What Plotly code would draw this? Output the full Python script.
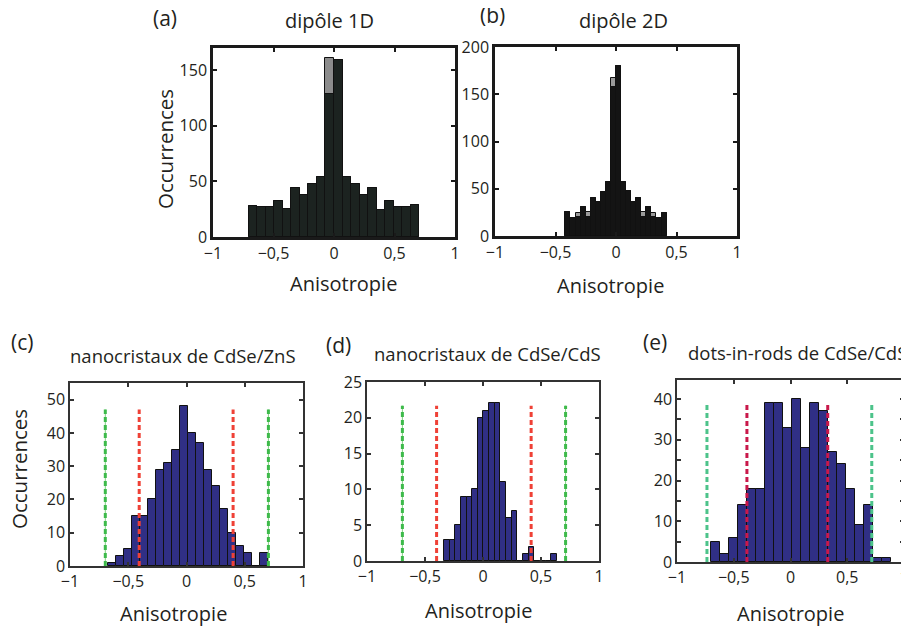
import plotly.graph_objects as go

# ---- data (histogram counts, bins of equal width) ----
a_start, a_width = -0.705, 0.0705
a_black = [28, 27, 27, 32, 25, 44, 38, 48, 54, 129, 159, 54, 48, 38, 44, 24, 32, 27, 27, 29]
a_gray = [28, 27, 27, 32, 25, 44, 38, 48, 54, 161, 159, 54, 48, 38, 44, 24, 32, 27, 27, 29]

b_start, b_width = -0.418, 0.0418
b_black = [25, 19, 20, 31, 20, 40, 36, 47, 57, 158, 180, 57, 48, 36, 40, 20, 31, 20, 19, 24]
b_gray = [25, 19, 24, 31, 25, 40, 36, 47, 57, 167, 180, 57, 48, 36, 40, 25, 31, 24, 19, 24]

c_start, c_width = -0.671, 0.0686
c_counts = [1, 3, 5, 15, 15, 20, 29, 31, 35, 48, 40, 37, 29, 24, 17, 10, 6, 4, 0, 4]
c_green = [-0.697, 0.703]
c_red = [-0.406, 0.40]
c_line_h = 47

d_start, d_width = -0.337, 0.0487
d_counts = [3, 3, 5, 9, 9, 10, 20, 21, 22, 22, 11, 6, 7, 0, 1, 2, 0, 0, 0, 1]
d_green = [-0.695, 0.712]
d_red = [-0.40, 0.415]
d_line_h = 21.7

e_start, e_width = -0.698, 0.0792
e_counts = [5, 2, 6, 14, 18, 18, 39, 39, 33, 40, 28, 39, 37, 27, 24, 18, 9, 14, 1, 1]
e_green = [-0.736, 0.716]
e_red = [-0.384, 0.328]
e_line_h = 39.3

x_ticks = [-1, -0.5, 0, 0.5, 1]
x_labels = ["\u22121", "\u22120,5", "0", "0,5", "1"]

FONT = "Open Sans"
TXT = "#231f20"
NAVY = "#302f85"

fig = go.Figure()


def add_hist(counts, start, width, color, ax, line_color="#111111"):
    fig.add_trace(go.Bar(
        y=counts, x0=start + width / 2, dx=width, width=width,
        marker=dict(color=color, line=dict(color=line_color, width=1)),
        xaxis="x" + ax, yaxis="y" + ax, showlegend=False
    ))


def add_vlines(xs, h, color, ax, thin=None):
    for v in xs:
        if thin:
            fig.add_trace(go.Scatter(
                x=[v, v], y=[0, h], mode="lines",
                line=dict(color=thin, width=1),
                xaxis="x" + ax, yaxis="y" + ax, showlegend=False
            ))
        fig.add_trace(go.Scatter(
            x=[v, v], y=[0, h], mode="lines",
            line=dict(color=color, width=3, dash="5px,3px"),
            xaxis="x" + ax, yaxis="y" + ax, showlegend=False
        ))


# (a)
add_hist(a_gray, a_start, a_width, "#8c8c8c", "")
add_hist(a_black, a_start, a_width, "#1c2320", "")
# (b)
add_hist(b_gray, b_start, b_width, "#9a9a9a", "2")
add_hist(b_black, b_start, b_width, "#141414", "2")
# (c)
add_hist(c_counts, c_start, c_width, NAVY, "3")
add_vlines(c_green, c_line_h, "#3dba4a", "3", thin="#7fd17f")
add_vlines(c_red, c_line_h, "#ef4136", "3")
# (d)
add_hist(d_counts, d_start, d_width, NAVY, "4")
add_vlines(d_green, d_line_h, "#3dba4a", "4", thin="#7fd17f")
add_vlines(d_red, d_line_h, "#ef4136", "4")
# (e)
add_hist(e_counts, e_start, e_width, NAVY, "5")
add_vlines(e_green, e_line_h, "#4cc38a", "5")
add_vlines(e_red, e_line_h, "#c9184a", "5")


def xax(dom, anchor, lw, lc, fs):
    return dict(domain=dom, anchor=anchor, range=[-1, 1], tickvals=x_ticks, ticktext=x_labels,
                ticks="inside", ticklen=4, tickwidth=1.5, tickcolor=lc, showline=True, linecolor=lc,
                linewidth=lw, mirror="allticks", showgrid=False, zeroline=False,
                tickfont=dict(size=fs, color=TXT, family=FONT), fixedrange=True)


def yax(dom, anchor, rng, dtick, lw, lc, fs, minor=None):
    d = dict(domain=dom, anchor=anchor, range=rng, dtick=dtick, tick0=0,
             ticks="inside", ticklen=4, tickwidth=1.5, tickcolor=lc, showline=True, linecolor=lc,
             linewidth=lw, mirror="allticks", showgrid=False, zeroline=False,
             tickfont=dict(size=fs, color=TXT, family=FONT), fixedrange=True)
    if minor:
        d["minor"] = dict(dtick=minor, ticks="inside", ticklen=4, tickcolor=lc, showgrid=False)
    return d


# the page body has an 8px margin, so the figure starts 8px in from the window corner
OFF = 8
W, H = 909 - OFF, 630 - OFF


def fx(a, b):
    return [(a - OFF) / W, (b - OFF) / W]


def fy(top, bot):
    return [1 - (bot - OFF) / H, 1 - (top - OFF) / H]


fig.update_layout(
    width=W, height=H, margin=dict(l=0, r=0, t=0, b=0, autoexpand=False),
    paper_bgcolor="white", plot_bgcolor="white", barmode="overlay", bargap=0,
    font=dict(family=FONT, color=TXT),
    xaxis=xax(fx(213, 455), "y", 2.5, "#1a1a1a", 16),
    yaxis=yax(fy(48, 237), "x", [0, 170], 50, 2.5, "#1a1a1a", 16),
    xaxis2=xax(fx(495, 737), "y2", 2.5, "#1a1a1a", 16),
    yaxis2=yax(fy(47, 236), "x2", [0, 200], 50, 2.5, "#1a1a1a", 16),
    xaxis3=xax(fx(70, 303), "y3", 1.5, "#333333", 16),
    yaxis3=yax(fy(383, 566), "x3", [0, 55], 10, 1.5, "#333333", 16),
    xaxis4=xax(fx(367, 599), "y4", 1.5, "#333333", 16),
    yaxis4=yax(fy(382, 561), "x4", [0, 25], 5, 1.5, "#333333", 16),
    xaxis5=xax(fx(677, 904), "y5", 1.5, "#333333", 16),
    yaxis5=yax(fy(380, 562), "x5", [0, 44.7], 10, 1.5, "#333333", 16, minor=5),
)

# text labels (reference pixel positions converted to paper fractions)
texts = [
    ("(a)", 165, 18, 21), ("dip\u00f4le 1D", 329, 20, 20),
    ("(b)", 492, 15, 21), ("dip\u00f4le 2D", 623, 20, 20),
    ("Anisotropie", 343, 283, 20), ("Anisotropie", 610, 285, 20),
    ("(c)", 22, 342, 21), ("nanocristaux de CdSe/ZnS", 183, 355, 18.5),
    ("(d)", 338, 345, 21), ("nanocristaux de CdSe/CdS", 487, 353, 18.5),
    ("(e)", 655, 342, 21), ("dots-in-rods de CdSe/CdS", 797, 352, 18.5),
    ("Anisotropie", 173, 613, 20), ("Anisotropie", 478, 610, 20), ("Anisotropie", 790, 613, 20),
]
for t, px, py, sz in texts:
    fig.add_annotation(text=t, x=(px - OFF) / W, y=1 - (py - OFF) / H, xref="paper", yref="paper",
                       showarrow=False, xanchor="center", yanchor="middle",
                       font=dict(size=sz, color=TXT, family=FONT))

for px, py in [(165, 149), (19, 469)]:
    fig.add_annotation(text="Occurrences", x=(px - OFF) / W, y=1 - (py - OFF) / H,
                       xref="paper", yref="paper",
                       showarrow=False, textangle=-90, xanchor="center", yanchor="middle",
                       font=dict(size=20.5, color=TXT, family=FONT))

fig.write_html("out.html")
